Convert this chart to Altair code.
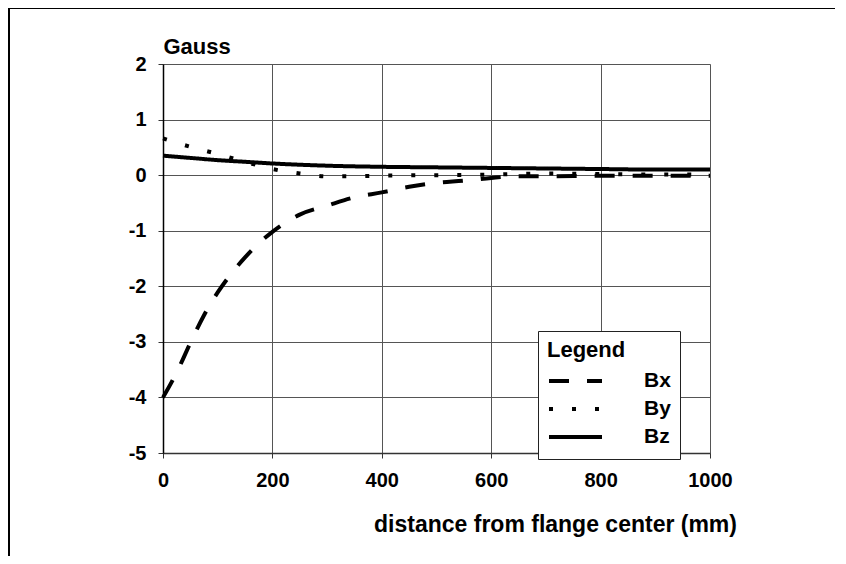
import altair as alt
import pandas as pd

# ---- data ----
x_bx = [0, 25, 50, 75, 100, 125, 150, 175, 200, 250, 300, 350, 400, 450, 500, 550, 600, 650, 700, 800, 900, 1000]
bx = [-4.0, -3.55, -3.02, -2.52, -2.11, -1.77, -1.48, -1.23, -1.02, -0.71, -0.55, -0.40, -0.31, -0.21, -0.14, -0.10, -0.05, -0.02, -0.02, -0.01, -0.01, -0.01]

x_by = [0, 50, 100, 150, 200, 250, 300, 350, 400, 500, 600, 700, 800, 900, 1000]
by = [0.66, 0.51, 0.38, 0.24, 0.11, 0.03, -0.02, -0.02, -0.01, 0.0, 0.01, 0.03, 0.02, 0.01, 0.01]

x_bz = [0, 50, 100, 150, 200, 300, 400, 500, 600, 700, 800, 900, 1000]
bz = [0.35, 0.31, 0.27, 0.24, 0.21, 0.17, 0.15, 0.14, 0.13, 0.12, 0.11, 0.10, 0.10]

series = ["Bx", "By", "Bz"]
x_ticks = [0, 200, 400, 600, 800, 1000]
y_ticks = [-5, -4, -3, -2, -1, 0, 1, 2]

rows = []
for name, xs, ys in (("Bx", x_bx, bx), ("By", x_by, by), ("Bz", x_bz, bz)):
    for a, b in zip(xs, ys):
        rows.append({"d": a, "B": b, "s": name})
df = pd.DataFrame(rows)

FONT = "Liberation Sans"

lines = alt.Chart(df).mark_line(interpolate="monotone", color="black", strokeCap="butt").encode(
    x=alt.X("d:Q",
            scale=alt.Scale(domain=[0, 1000], nice=False, zero=False),
            axis=alt.Axis(values=x_ticks, title="distance from flange center (mm)",
                          labelExpr="'' + datum.value",
                          grid=True, gridColor="#555", gridWidth=1,
                          domainColor="#333", domainWidth=1.5,
                          tickColor="#333", tickSize=5,
                          labelFont=FONT, labelFontSize=20, labelFontWeight="bold", labelColor="black",
                          labelPadding=12, labelFlush=False, labelOverlap=False,
                          titleFont=FONT, titleFontSize=23, titleFontWeight="bold", titleColor="black",
                          titleX=392, titleY=78, titleAlign="center", titleBaseline="alphabetic")),
    y=alt.Y("B:Q",
            scale=alt.Scale(domain=[-5, 2], nice=False, zero=False),
            axis=alt.Axis(values=y_ticks, title="Gauss",
                          labelExpr="'' + datum.value",
                          grid=True, gridColor="#555", gridWidth=1,
                          domainColor="black", domainWidth=1.5,
                          tickColor="#333", tickSize=5,
                          labelFont=FONT, labelFontSize=20, labelFontWeight="bold", labelColor="black",
                          labelPadding=12, labelOverlap=False,
                          titleFont=FONT, titleFontSize=22, titleFontWeight="bold", titleColor="black",
                          titleAngle=0, titleAlign="left", titleX=0, titleY=-11,
                          titleBaseline="alphabetic")),
    strokeDash=alt.StrokeDash("s:N",
                              scale=alt.Scale(domain=series, range=[[20, 18], [4, 19], [1, 0]]),
                              legend=alt.Legend(title="Legend", orient="none", legendX=375, legendY=267,
                                                titleFont=FONT, titleFontSize=22, titleFontWeight="bold",
                                                titleColor="black", titlePadding=6,
                                                labelFont=FONT, labelFontSize=21, labelFontWeight="bold",
                                                labelColor="black", labelOffset=40,
                                                symbolType="stroke", symbolSize=2809,
                                                symbolStrokeWidth=4, symbolStrokeColor="black",
                                                clipHeight=26, rowPadding=2, padding=9,
                                                strokeColor="#222", fillColor="white")),
    strokeWidth=alt.StrokeWidth("s:N", scale=alt.Scale(domain=series, range=[4, 4, 3.5]), legend=None),
)

# outer frame: only the top and left edges fall inside the picture
frame_data = pd.DataFrame({"f": [0]})
frame_top = alt.Chart(frame_data).mark_rule(color="black", strokeWidth=2).encode(
    x=alt.value(-154), x2=alt.value(672), y=alt.value(-56)
)
frame_left = alt.Chart(frame_data).mark_rule(color="black", strokeWidth=2).encode(
    x=alt.value(-154), y=alt.value(-56), y2=alt.value(492)
)

chart = alt.layer(frame_top, frame_left, lines).properties(
    width=547, height=389,
    autosize=alt.AutoSizeParams(type="none"),
    padding={"left": 155, "top": 56, "right": 128, "bottom": 103},
).configure_view(stroke="black", strokeWidth=1.5).configure(background="white")

chart.save("out.html", embed_options={"renderer": "svg", "actions": False})
